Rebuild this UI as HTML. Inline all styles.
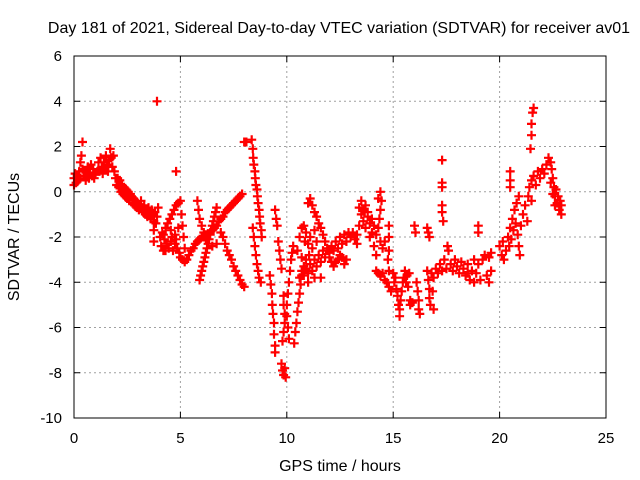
<!DOCTYPE html>
<html><head><meta charset="utf-8"><style>
html,body{margin:0;padding:0;background:#fff;}
svg{display:block;font-family:"Liberation Sans",Arial,sans-serif;}
</style></head><body>
<svg id="chart" width="640" height="480" viewBox="0 0 640 480" xmlns="http://www.w3.org/2000/svg">
<rect x="0" y="0" width="640" height="480" fill="#fff"/>
<text x="339" y="33" font-size="16" text-anchor="middle" fill="#000">Day 181 of 2021, Sidereal Day-to-day VTEC variation (SDTVAR) for receiver av01</text>
<text x="340" y="471" font-size="16" text-anchor="middle" fill="#000">GPS time / hours</text>
<text transform="translate(19,237) rotate(-90)" font-size="16" text-anchor="middle" fill="#000">SDTVAR / TECUs</text>
<g id="grid"></g>
<g id="ticks"></g>
<g id="marks"></g>
<rect x="74" y="56" width="532" height="362" fill="none" stroke="#000" stroke-width="1"/>
</svg>
<script>
const xTicks=[0,5,10,15,20,25];
const yTicks=[-10,-8,-6,-4,-2,0,2,4,6];
const segA=[[0,0.3],[0,0.6],[0.05,0.8],[0.1,0.4],[0.15,0.7],[0.2,0.5],[0.25,0.9],[0.3,0.6],[0.3,1.3],[0.35,1.6],[0.4,2.2],[0.4,1.0],[0.45,0.7],[0.5,0.9],[0.55,0.5],[0.6,0.7],[0.65,1.1],[0.7,0.6],[0.75,0.8],[0.8,1.2],[0.85,0.7],[0.9,1.0],[0.95,0.6],[1.0,0.8],[1.1,0.9],[1.15,1.3],[1.2,0.9],[1.25,1.5],[1.3,1.1],[1.35,0.8],[1.4,1.3],[1.45,1.0],[1.5,1.6],[1.55,1.2],[1.6,0.9],[1.65,1.4],[1.7,1.9],[1.75,1.5],[1.8,1.1],[1.85,1.6],[1.9,0.9],[1.95,0.6],[2.0,0.3],[2.05,0.6]];
const segB=[[2.1,0.2],[2.15,0.5],[2.2,0.0],[2.25,0.3],[2.3,-0.1],[2.35,0.2],[2.4,-0.2],[2.45,0.1],[2.5,-0.3],[2.55,0.0],[2.6,-0.4],[2.65,-0.1],[2.7,-0.2],[2.75,-0.5],[2.8,-0.3],[2.85,-0.6],[2.9,-0.4],[2.95,-0.7],[3.0,-0.5],[3.05,-0.8],[3.1,-0.6],[3.15,-0.4],[3.2,-0.7],[3.25,-0.9],[3.3,-0.6],[3.35,-1.0],[3.4,-0.8],[3.45,-1.1],[3.5,-0.7],[3.55,-0.9],[3.6,-1.2],[3.65,-0.8],[3.7,-1.0],[3.75,-1.3],[3.8,-0.9],[3.85,-1.4],[3.9,-1.1],[3.95,-0.7],[3.75,-1.7],[3.75,-2.2],[3.9,4.0],[4.8,0.9]];
const segC=[[4.05,-2.0],[4.1,-2.4],[4.15,-1.8],[4.2,-2.6],[4.25,-2.1],[4.3,-1.6],[4.35,-2.3],[4.4,-1.4],[4.45,-2.5],[4.5,-1.2],[4.55,-2.2],[4.6,-1.0],[4.65,-2.6],[4.7,-0.8],[4.75,-2.3],[4.8,-0.6],[4.85,-2.5],[4.9,-0.5],[4.95,-2.7],[5.0,-0.4],[5.0,-2.9],[5.05,-1.0],[5.1,-1.5],[5.1,-3.0],[5.15,-2.0],[5.2,-2.5],[5.2,-3.1],[4.75,-1.9],[4.9,-1.6],[4.55,-1.7],[4.2,-1.9],[4.3,-2.6],[4.6,-2.0],[4.8,-2.1]];
const segD=[[5.3,-3.0],[5.4,-2.8],[5.5,-2.6],[5.6,-2.5],[5.7,-2.3],[5.8,-2.2],[5.9,-2.1],[6.0,-2.0],[6.1,-2.0],[6.2,-1.9],[6.3,-1.9],[6.4,-1.8],[6.5,-1.7],[6.6,-1.6],[6.7,-1.5],[6.8,-1.3],[6.9,-1.2],[7.0,-1.1],[7.1,-0.9],[7.2,-0.8],[7.3,-0.7],[7.4,-0.6],[7.5,-0.5],[7.6,-0.4],[7.7,-0.3],[7.8,-0.2],[7.9,-0.1],
[5.9,-3.9],[5.95,-3.7],[6.0,-3.5],[6.05,-3.3],[6.1,-3.1],[6.15,-2.9],[6.2,-2.7],[6.25,-2.5],[6.3,-2.3],[6.35,-2.1],[6.4,-1.9],[6.45,-1.7],[6.5,-1.5],[6.55,-1.3],[6.6,-1.1],[6.65,-0.9],[6.7,-0.7],
[5.8,-0.4],[5.85,-0.8],[5.9,-1.2],[6.0,-1.5],[6.1,-1.8],[6.2,-2.1],[6.3,-2.3],[6.5,-2.4],[6.7,-2.3],[6.9,-1.8],[7.0,-2.0],[7.1,-2.3],[7.2,-2.6],[7.3,-2.8],[7.4,-3.0],[7.5,-3.3],[7.6,-3.5],[7.7,-3.7],[7.8,-3.9],[7.9,-4.1],[8.0,-4.2]];
const segE=[[8.0,2.2],[8.1,2.2],[8.35,2.3],[8.4,1.9],[8.42,1.5],[8.45,1.2],[8.5,0.9],[8.52,0.6],[8.55,0.3],[8.6,0.1],[8.62,-0.2],[8.65,-0.5],[8.7,-0.8],[8.72,-1.1],[8.75,-1.4],[8.8,-1.7],[8.82,-2.0],[8.4,-1.6],[8.45,-2.0],[8.5,-2.4],[8.55,-2.8],[8.6,-3.2],[8.65,-3.5],[8.7,-3.8],[8.78,-4.0],[9.2,-3.7],[9.25,-4.1],[9.3,-4.5],[9.32,-5.0],[9.35,-5.4],[9.4,-5.8],[9.4,-6.3],[9.45,-6.8],[9.45,-7.1],[9.55,-1.5],[9.6,-2.2],[9.65,-2.6],[9.7,-3.0],[9.75,-3.4],[9.85,-4.6],[9.85,-5.0],[9.9,-5.4],[9.9,-5.8],[9.85,-6.2],[9.8,-6.6],[9.75,-7.6],[9.8,-7.9],[9.85,-8.1],[9.9,-7.8],[9.95,-8.2],[9.45,-0.8],[9.5,-1.2],[10.35,-6.7],[10.4,-6.2],[10.45,-5.8],[10.5,-5.3],[10.55,-4.9],[10.6,-4.5],[10.65,-4.1],[10.7,-3.7],[10.8,-3.3],[10.9,-3.0],[10.1,-6.5],[10.05,-6.0],[10.0,-5.5],[10.0,-5.0],[10.05,-4.5],[10.1,-4.0],[10.15,-3.5],[10.2,-3.0],[10.25,-2.7],[10.3,-2.4]];
const segF=[[10.6,-3.8],[10.7,-3.5],[10.8,-3.7],[10.9,-3.4],[11.0,-3.6],[11.1,-3.2],[11.2,-3.5],[11.3,-3.0],[11.4,-3.3],[11.5,-2.8],[11.6,-3.1],[11.7,-2.6],[11.8,-2.9],[11.9,-2.5],[12.0,-2.7],[12.1,-2.4],[12.2,-2.6],[12.3,-2.2],[12.4,-2.5],[12.5,-2.0],[12.6,-2.3],[12.7,-1.9],[12.8,-2.2],[12.9,-1.8],[13.0,-2.0],[13.1,-1.8],[13.2,-2.1],[13.3,-1.9],
[11.0,-0.5],[11.1,-0.3],[11.2,-0.6],[11.3,-0.9],[11.4,-1.1],[11.5,-1.4],[11.6,-1.6],[11.7,-1.9],[11.8,-2.2],[11.9,-2.6],[12.0,-2.9],[12.1,-3.1],[12.2,-3.3],[12.3,-3.1],[12.4,-3.0],[12.5,-2.8],[12.6,-2.9],[12.7,-3.2],[12.8,-3.0],
[10.6,-2.0],[10.7,-1.6],[10.8,-1.5],[10.85,-2.2],[10.9,-1.8],[11.0,-2.3],[11.05,-2.8],[11.1,-2.0],[11.3,-1.7],[11.4,-2.2],[11.2,-2.5],[10.5,-2.6],[10.7,-2.9],[11.6,-3.8],[11.3,-3.8],[11.0,-4.0]];
const segG=[[13.4,-0.7],[13.5,-1.0],[13.5,-0.4],[13.6,-1.3],[13.6,-0.8],[13.7,-0.6],[13.7,-1.6],[13.8,-1.1],[13.8,-0.9],[13.9,-1.4],[13.9,-2.0],[14.0,-1.2],[14.0,-1.8],[14.1,-1.5],[14.1,-2.4],[14.2,-1.9],[14.2,-2.8],[14.3,-1.6],[14.3,-0.3],[14.4,0.0],[14.45,-0.4],[14.4,-0.8],[14.35,-1.2],[14.4,-2.2],[14.5,-2.5],[14.6,-2.2],[14.8,-1.5],[14.8,-2.0],[14.8,-2.6],[14.75,-3.0],[14.2,-3.5],[14.3,-3.6],[14.4,-3.7],[14.5,-3.6],[14.6,-3.9],[14.7,-4.0],[14.8,-4.2],[14.8,-3.5],[14.9,-4.4],[13.4,-1.5],[13.3,-2.3]];
const segH=[[15.0,-3.6],[15.05,-4.0],[15.1,-3.8],[15.15,-4.3],[15.2,-4.6],[15.25,-5.0],[15.3,-5.2],[15.3,-5.5],[15.35,-4.8],[15.4,-4.4],[15.45,-4.0],[15.5,-3.8],[15.55,-3.5],[15.6,-4.0],[15.65,-3.7],[15.7,-4.2],[15.75,-3.6],[15.8,-4.8],[15.8,-5.0],[15.9,-4.9],[16.1,-4.0],[16.15,-4.4],[16.2,-4.8],[16.2,-5.2],[16.25,-5.4],[16.6,-3.5],[16.65,-3.9],[16.7,-4.3],[16.7,-4.7],[16.75,-5.0],[16.8,-3.6],[16.85,-4.4],[16.9,-3.8],[16.9,-5.2],[16.6,-1.6],[16.7,-2.0],[16.65,-1.8]];
const segI=[[17.0,-3.4],[17.1,-3.6],[17.2,-3.2],[17.3,-3.5],[17.4,-3.0],[17.5,-3.4],[17.6,-2.6],[17.55,-2.4],[17.7,-3.2],[17.8,-3.5],[17.9,-3.0],[18.0,-3.3],[18.1,-3.6],[18.2,-3.1],[18.3,-3.4],[18.4,-3.7],[18.5,-3.2],[18.6,-3.9],[18.7,-3.5],[18.8,-4.0],[18.9,-3.6],[19.0,-3.2],[19.1,-3.9],[19.2,-3.0],[19.3,-2.8],[19.4,-3.7],[19.5,-4.0],[19.6,-3.5],[19.6,-2.7],[19.5,-2.9],[18.8,-3.0],[18.5,-3.6],[19.0,-1.5],[19.0,-1.8],[17.3,1.4],[17.3,0.4],[17.3,0.2],[17.3,-0.6],[17.3,-0.9],[17.35,-1.3],[16.0,-1.5],[16.05,-1.8]];
const segJ=[[20.0,-2.4],[20.1,-2.8],[20.15,-2.2],[20.2,-3.0],[20.3,-2.6],[20.4,-2.0],[20.45,-2.4],[20.5,-1.6],[20.55,-2.1],[20.6,-1.2],[20.65,-1.7],[20.7,-0.8],[20.75,-1.4],[20.8,-0.5],[20.85,-1.9],[20.9,-2.4],[20.9,-0.2],[20.95,-2.8],[21.0,-1.5],[20.5,0.5],[20.5,0.9],[20.5,0.2],[21.1,-1.0],[21.2,-0.6],[21.3,-1.3],[21.35,-0.2],[21.4,0.2],[21.5,0.5],[21.5,-0.4],[21.6,0.7],[21.7,0.3],[21.8,0.9],[21.9,0.6],[22.0,1.0],[22.1,0.8],[22.2,1.2],[21.5,2.5],[21.5,3.0],[21.55,3.5],[21.6,3.7],[21.45,1.9],[22.3,1.5],[22.4,1.3],[22.45,1.0],[22.5,0.6],[22.55,0.2],[22.6,-0.2],[22.65,0.1],[22.7,-0.5],[22.75,-0.2],[22.8,-0.8],[22.85,-0.4],[22.9,-1.0],[22.9,-0.6],[22.4,0.4],[22.5,-0.1],[22.6,-0.6]];

const NS='http://www.w3.org/2000/svg';
const X0=74,X1=606,Y0=418,Y1=56;
function xs(t){return X0+(t-0)/(25-0)*(X1-X0);}
function ys(v){return Y0-(v+10)/16*(Y0-Y1);}
const grid=document.getElementById('grid'),ticks=document.getElementById('ticks'),marks=document.getElementById('marks');
function mk(tag,attrs,parent){const e=document.createElementNS(NS,tag);for(const k in attrs)e.setAttribute(k,attrs[k]);parent.appendChild(e);return e;}
xTicks.forEach(t=>{
  const x=xs(t);
  if(t>0&&t<25){const g=mk('line',{x1:x,y1:Y1,x2:x,y2:Y0,stroke:'#a0a0a0','stroke-dasharray':'2,3','stroke-width':1},grid);
  
  }
  mk('line',{x1:x,y1:Y0,x2:x,y2:Y0-6,stroke:'#000'},ticks);
  mk('line',{x1:x,y1:Y1,x2:x,y2:Y1+6,stroke:'#000'},ticks);
  const l=mk('text',{x:x,y:443,'font-size':15,'text-anchor':'middle',fill:'#000'},ticks);
  l.textContent=t;
  
  
});
yTicks.forEach(v=>{
  const y=ys(v);
  if(v>-10&&v<6){const g=mk('line',{x1:X0,y1:y,x2:X1,y2:y,stroke:'#a0a0a0','stroke-dasharray':'2,3','stroke-width':1},grid);
  
  }
  mk('line',{x1:X0,y1:y,x2:X0+6,y2:y,stroke:'#000'},ticks);
  mk('line',{x1:X1,y1:y,x2:X1-6,y2:y,stroke:'#000'},ticks);
  const l=mk('text',{x:62,y:y+5,'font-size':15,'text-anchor':'end',fill:'#000'},ticks);
  l.textContent=v;
  
  
});
let d='';
[segA,segB,segC,segD,segE,segF,segG,segH,segI,segJ].forEach(seg=>{
  seg.forEach(p=>{
    const x=xs(p[0]),y=ys(p[1]);
    d+='M'+(x-4.5).toFixed(1)+' '+y.toFixed(1)+'h9M'+x.toFixed(1)+' '+(y-4.5).toFixed(1)+'v9';
  });
});
const path=mk('path',{d:d,stroke:'#ff0000','stroke-width':2.2,fill:'none'},marks);


</script>
</body></html>
